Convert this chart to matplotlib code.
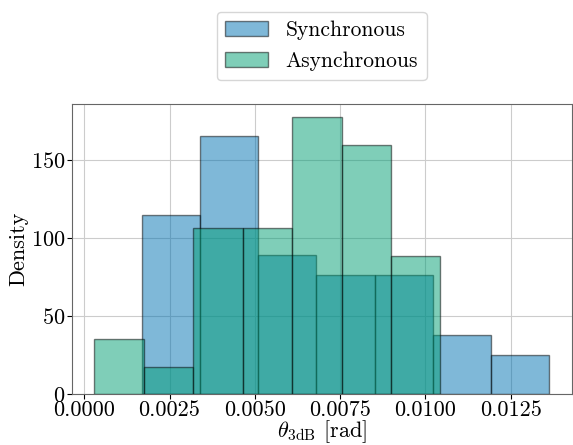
import numpy as np
import matplotlib
matplotlib.use('Agg')
import matplotlib.pyplot as plt

plt.rcParams['font.family'] = 'serif'
plt.rcParams['font.serif'] = ['cmr10']
plt.rcParams['mathtext.fontset'] = 'cm'
plt.rcParams['axes.formatter.use_mathtext'] = True

# bin edges and density heights
sync_edges = [0.00168, 0.00339, 0.00510, 0.00680, 0.00851, 0.01022, 0.01192, 0.01363]
sync_density = [114.7, 165.6, 89.1, 76.3, 76.3, 38.0, 25.2]

async_edges = [0.00030, 0.00175, 0.00320, 0.00464, 0.00609, 0.00754, 0.00898, 0.01043]
async_density = [35.3, 17.7, 106.4, 106.4, 177.6, 159.6, 88.5]

fig = plt.figure(figsize=(5.73, 4.45), dpi=100)
ax = fig.add_axes([0.125, 0.114, 0.873, 0.652])

ax.bar(sync_edges[:-1], sync_density, width=np.diff(sync_edges), align='edge',
       color='#0072B2', edgecolor='black', alpha=0.5, label='Synchronous', zorder=2)
ax.bar(async_edges[:-1], async_density, width=np.diff(async_edges), align='edge',
       color='#009E73', edgecolor='black', alpha=0.5, label='Asynchronous', zorder=3)

ax.set_xlim(-0.00037, 0.01429)
ax.set_ylim(0, 186)
ax.set_xticks([0.0, 0.0025, 0.005, 0.0075, 0.01, 0.0125])
ax.set_xticklabels(['0.0000', '0.0025', '0.0050', '0.0075', '0.0100', '0.0125'])
ax.set_yticks([0, 50, 100, 150])
ax.tick_params(labelsize=16, pad=1)
ax.grid(True, color='#cccccc', linewidth=0.8, zorder=0)
ax.set_axisbelow(True)
for s in ax.spines.values():
    s.set_color('#666666')

ax.set_xlabel(r'$\theta_{\mathrm{3dB}}$ [rad]', fontsize=16, labelpad=-1)
ax.set_ylabel('Density', fontsize=16, labelpad=2)

ax.legend(loc='upper center', bbox_to_anchor=(0.5, 1.355), fontsize=15.5, frameon=True,
          labelspacing=0.55)

fig.savefig('out.png', dpi=100)
